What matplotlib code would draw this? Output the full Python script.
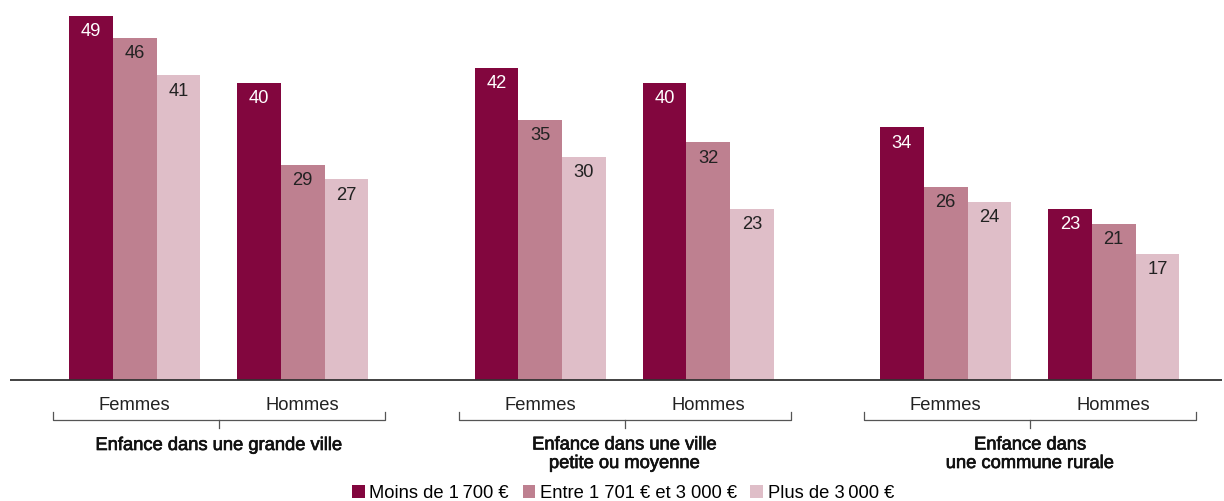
import numpy as np
import matplotlib.pyplot as plt
import matplotlib.patheffects as pe
from matplotlib.patches import Patch

plt.rcParams['font.family'] = ['Liberation Sans', 'DejaVu Sans']

# data
REGIONS = ["Enfance dans une grande ville",
           "Enfance dans une ville\npetite ou moyenne",
           "Enfance dans\nune commune rurale"]
GENDERS = ["Femmes", "Hommes"]
SERIES = ["Moins de 1\u2009700 €", "Entre 1 701 € et 3 000 €", "Plus de 3\u2009000 €"]
low_income = [49, 40, 42, 40, 34, 23]
mid_income = [46, 29, 35, 32, 26, 21]
high_income = [41, 27, 30, 23, 24, 17]

COLORS = ["#82063e", "#be8090", "#dfbec8"]
TEXT_COLORS = ["white", "#222222", "#222222"]

# layout (x in pixels, y in data units: 7.43 px per unit, baseline at 380 px)
PX = 7.43
W, H = 1224, 501
BASE = 380
BAR_W = 43.8
GROUP_STEP = 405.5
GENDER_STEP = 168
X0 = 69
FS = 13.2


def ypx(p):
    return (BASE - p) / PX


fig = plt.figure(figsize=(W / 100, H / 100), dpi=100)
ax = fig.add_axes([0, 0, 1, 1])
ax.set_xlim(0, W)
ax.set_ylim(ypx(H), ypx(0))
ax.axis("off")

series = [low_income, mid_income, high_income]
lefts = []
for g in range(len(REGIONS)):
    for k in range(len(GENDERS)):
        lefts.append(X0 + g * GROUP_STEP + k * GENDER_STEP)
lefts = np.array(lefts)

for s, vals in enumerate(series):
    xs = lefts + s * BAR_W
    bars = ax.bar(xs, vals, width=BAR_W, align="edge", color=COLORS[s], linewidth=0)
    for b, v in zip(bars, vals):
        ax.annotate(str(v), (b.get_x() + BAR_W / 2, v), xytext=(0, -14.6),
                    textcoords="offset points", ha="center", va="baseline",
                    fontsize=FS, color=TEXT_COLORS[s])

# baseline
ax.plot([10, 1222], [0, 0], color="#333333", lw=1.3, solid_capstyle="butt")

# gender labels and brackets
for g, region in enumerate(REGIONS):
    for k, gender in enumerate(GENDERS):
        cx = lefts[g * 2 + k] + 1.5 * BAR_W
        ax.text(cx, ypx(410), gender, ha="center", va="baseline", fontsize=FS, color="#222222")
    left = lefts[g * 2] - 16
    right = lefts[g * 2 + 1] + 3 * BAR_W + 17
    mid = (left + right) / 2
    c = "#555555"
    ax.plot([left, left, right, right], [ypx(412), ypx(419.5), ypx(419.5), ypx(412)],
            color=c, lw=0.9)
    ax.plot([mid, mid], [ypx(419.5), ypx(428)], color=c, lw=0.9)
    nlines = region.count("\n")
    ax.text(mid, ypx(450 + nlines * 18), region, ha="center", va="baseline", fontsize=FS,
            linespacing=1.12, color="#111111",
            path_effects=[pe.withStroke(linewidth=0.5, foreground="#111111")])

handles = [Patch(facecolor=c, edgecolor="none") for c in COLORS]
fig.legend(handles, SERIES, loc="lower center", bbox_to_anchor=(0.509, -0.028), ncol=3,
           frameon=False, fontsize=FS, handlelength=0.68, handleheight=0.68,
           handletextpad=0.25, columnspacing=0.75, borderpad=0.2)

fig.savefig("out.png", dpi=100)
